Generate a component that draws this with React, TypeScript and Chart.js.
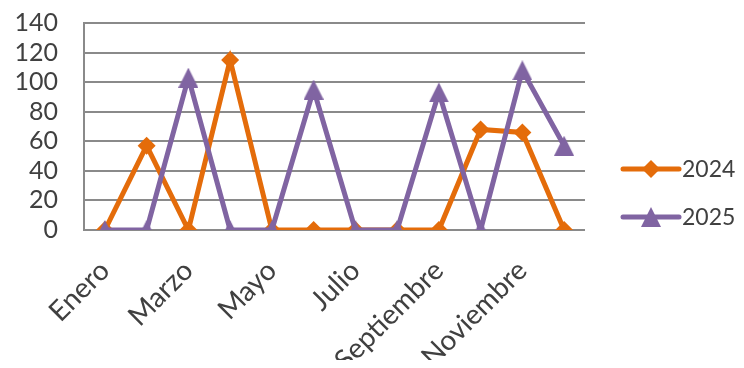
import React, { useEffect, useRef } from "react";
import { Chart, registerables } from "chart.js";

Chart.register(...registerables);

const months = [
  "Enero", "Febrero", "Marzo", "Abril", "Mayo", "Junio",
  "Julio", "Agosto", "Septiembre", "Octubre", "Noviembre", "Diciembre",
];
const series2024 = [0, 57, 0, 115, 0, 0, 0, 0, 0, 68, 66, 0];
const series2025 = [0, 0, 103, 0, 0, 95, 0, 0, 93, 0, 108, 57];
const yTicks = [0, 20, 40, 60, 80, 100, 120, 140];

const ORANGE = "#e46c0a";
const PURPLE = "#8064a2";
const TEXT = "#404040";
const GRID = "#8a8a8a";
const FONT = "Lato, 'Liberation Sans', sans-serif";

// Isosceles triangle marker drawn into a small offscreen canvas
function makeTriangle(color: string, w: number, h: number): HTMLCanvasElement {
  const c = document.createElement("canvas");
  c.width = w;
  c.height = h;
  const ctx = c.getContext("2d")!;
  ctx.fillStyle = color;
  ctx.beginPath();
  ctx.moveTo(w / 2, 0);
  ctx.lineTo(w, h);
  ctx.lineTo(0, h);
  ctx.closePath();
  ctx.fill();
  return c;
}

// Legend on the right: line sample with the series marker, then the year
const seriesLegend = {
  id: "seriesLegend",
  afterDraw(chart: any) {
    const { ctx } = chart;
    const items = [
      { label: "2024", color: ORANGE, marker: "diamond", y: 161 },
      { label: "2025", color: PURPLE, marker: "triangle", y: 209 },
    ];
    const x0 = 615;
    const x1 = 671;
    const xm = (x0 + x1) / 2;
    ctx.save();
    for (const it of items) {
      ctx.strokeStyle = it.color;
      ctx.lineWidth = 5;
      ctx.lineCap = "round";
      ctx.beginPath();
      ctx.moveTo(x0, it.y);
      ctx.lineTo(x1, it.y);
      ctx.stroke();
      ctx.fillStyle = it.color;
      ctx.beginPath();
      if (it.marker === "diamond") {
        ctx.moveTo(xm, it.y - 9);
        ctx.lineTo(xm + 9, it.y);
        ctx.lineTo(xm, it.y + 9);
        ctx.lineTo(xm - 9, it.y);
      } else {
        ctx.moveTo(xm, it.y - 10);
        ctx.lineTo(xm + 10, it.y + 10);
        ctx.lineTo(xm - 10, it.y + 10);
      }
      ctx.closePath();
      ctx.fill();
      ctx.fillStyle = TEXT;
      ctx.font = `23px ${FONT}`;
      ctx.textAlign = "left";
      ctx.textBaseline = "middle";
      ctx.fillText(it.label, 674, it.y + 1);
    }
    ctx.restore();
  },
};

export default function App() {
  const ref = useRef<HTMLCanvasElement | null>(null);

  useEffect(() => {
    if (!ref.current) return;
    const tri = makeTriangle(PURPLE, 20, 20);
    const chart = new Chart(ref.current, {
      type: "line",
      data: {
        labels: months,
        datasets: [
          {
            label: "2024",
            data: series2024,
            borderColor: ORANGE,
            backgroundColor: ORANGE,
            borderWidth: 5,
            pointStyle: "rectRot",
            pointRadius: 9,
            pointBorderWidth: 0,
            tension: 0,
            order: 2,
          },
          {
            label: "2025",
            data: series2025,
            borderColor: PURPLE,
            backgroundColor: PURPLE,
            borderWidth: 5,
            pointStyle: tri as any,
            pointRadius: 10,
            pointBorderWidth: 0,
            tension: 0,
            order: 1,
          },
        ],
      },
      options: {
        animation: false,
        responsive: true,
        maintainAspectRatio: false,
        layout: { padding: { left: 0, right: 151, top: 0, bottom: 0 } },
        plugins: {
          legend: { display: false },
          tooltip: { enabled: false },
        },
        scales: {
          x: {
            offset: true,
            grid: { display: false, drawTicks: false },
            border: { display: false },
            ticks: {
              autoSkip: false,
              maxRotation: 45,
              minRotation: 45,
              padding: 24,
              color: TEXT,
              font: { family: FONT, size: 28 },
              callback: (_v: any, i: number) => (i % 2 === 0 ? months[i] : ""),
            },
            afterFit: (s: any) => {
              s.height = 130;
            },
          },
          y: {
            min: 0,
            max: 140,
            afterBuildTicks: (s: any) => {
              s.ticks = yTicks.map((v) => ({ value: v }));
            },
            grid: {
              color: GRID,
              lineWidth: 2,
              drawTicks: true,
              tickLength: 26,
              tickColor: "rgba(0,0,0,0)",
            },
            border: { display: true, color: GRID, width: 2 },
            ticks: {
              autoSkip: false,
              padding: 0,
              color: TEXT,
              font: { family: FONT, size: 25 },
            },
            afterFit: (s: any) => {
              s.width = 76;
            },
          },
        },
      },
      plugins: [seriesLegend],
    });
    return () => chart.destroy();
  }, []);

  return (
    <div style={{ position: "relative", width: 728, height: 352 }}>
      <canvas ref={ref} />
    </div>
  );
}
